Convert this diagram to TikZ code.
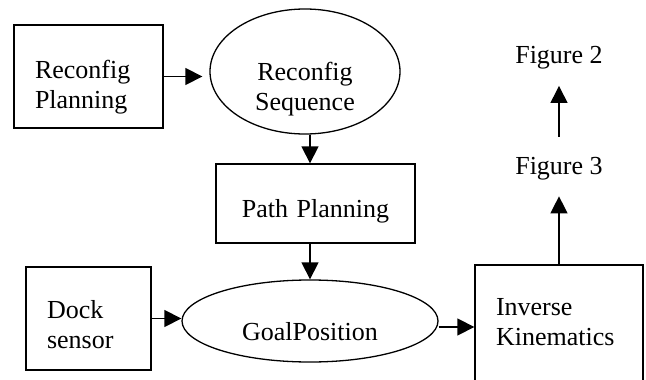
\documentclass[tikz,border=0pt]{standalone}
\usepackage{fontspec}
\setmainfont{Liberation Serif}
\usetikzlibrary{positioning,shapes.geometric,arrows.meta}

\begin{document}
\begin{tikzpicture}[
  x=1pt, y=-1pt,
  every node/.style={font=\fontsize{26}{30}\selectfont, inner sep=0pt},
  block/.style={
    draw,
    line width=1.3pt,
    rectangle,
    inner xsep=21pt,
    inner ysep=0pt,
    align=left,
  },
  oval/.style={
    draw,
    line width=1.3pt,
    ellipse,
    inner sep=0pt,
    align=center,
  },
  figtext/.style={text height=37pt, text depth=22pt},
  arr/.style={-{Triangle[length=17pt,width=17pt]}, line width=1.3pt},
]
  \useasboundingbox (0,0) rectangle (646,380);

  \node[block, text width=107pt, text height=53pt, text depth=50pt] (plan) at (88.5,76.5) {Reconfig\\Planning};
  \node[oval, minimum width=190pt, minimum height=125pt, text width=120pt, text height=44pt, text depth=27pt] (seq) at (305,71.5) {Reconfig\\Sequence};
  \node[block, align=center, text width=157pt, text height=53pt, text depth=26pt] (path) at (315.5,203.5) {Path Planning};
  \node[oval, minimum width=256pt, minimum height=82pt, text height=46pt, text depth=8pt] (goal) at (310,321) {GoalPosition};
  \node[block, text width=83pt, text height=51pt, text depth=52pt] (dock) at (88.5,318.5) {Dock\\sensor};
  \node[block, text width=126pt, text height=50pt, text depth=74pt] (inv) at (559,327) {Inverse\\Kinematics};
  \node[figtext, above=68pt of inv] (fig3) {Figure 3};
  \node[figtext, above=51pt of fig3] (fig2) {Figure 2};

  \draw[arr, shorten >=7pt] (plan.east) -- (plan.east -| seq.west);
  \draw[arr] (seq.south -| goal.north) -- (path.north -| goal.north);
  \draw[arr] (path.south -| goal.north) -- (goal.north);
  \draw[arr] (dock.east) -- (dock.east -| goal.west);
  \draw[arr] (inv.west -| goal.east) -- (inv.west);
  \draw[arr] (inv.north -| fig3.south) -- (fig3.south);
  \draw[arr] (fig3.north) -- (fig2.south);
\end{tikzpicture}
\end{document}
